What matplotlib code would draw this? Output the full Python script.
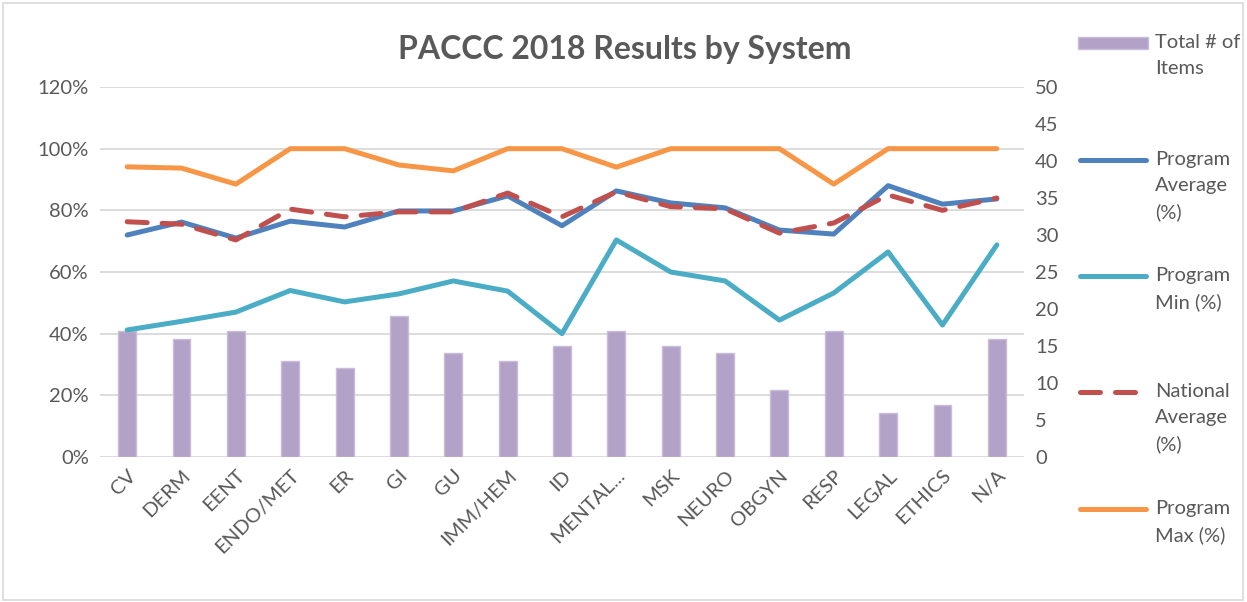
import matplotlib
matplotlib.use("Agg")
import matplotlib.pyplot as plt
from matplotlib.lines import Line2D
from matplotlib.patches import Rectangle

plt.rcParams.update({
    "font.family": ["Lato", "DejaVu Sans"],
    "font.size": 14.5,
})

# ── Data ─────────────────────────────────────────────────────────────────────
systems = ["CV", "DERM", "EENT", "ENDO/MET", "ER", "GI", "GU", "IMM/HEM", "ID",
           "MENTAL...", "MSK", "NEURO", "OBGYN", "RESP", "LEGAL", "ETHICS", "N/A"]
total_items = [17, 16, 17, 13, 12, 19, 14, 13, 15, 17, 15, 14, 9, 17, 6, 7, 16]
program_avg = [72.0, 76.2, 71.0, 76.5, 74.6, 79.8, 79.8, 84.7, 75.0, 86.3,
               82.4, 80.8, 73.6, 72.3, 88.0, 82.0, 83.7]
program_min = [41.2, 44.0, 47.0, 54.0, 50.3, 52.9, 57.1, 53.8, 40.0, 70.4,
               60.0, 57.1, 44.4, 53.2, 66.5, 42.8, 68.8]
national_avg = [76.3, 75.5, 70.4, 80.4, 77.9, 79.5, 79.5, 85.6, 77.9, 86.0,
                81.2, 80.5, 72.6, 75.9, 85.0, 80.0, 84.0]
program_max = [94.1, 93.7, 88.5, 100, 100, 94.7, 92.8, 100, 100, 94.0,
               100, 100, 100, 88.5, 100, 100, 100]

# ── Colours ──────────────────────────────────────────────────────────────────
C_BAR = "#B3A2C7"
C_BAR_EDGE = "#C9BDDA"
C_AVG = "#4F81BD"
C_MIN = "#4BACC6"
C_NAT = "#C0504D"
C_MAX = "#F79646"
C_TXT = "#595959"
C_GRID = "#D9D9D9"
FS = 14.5
DASH = (4.0, 3.0)

fig = plt.figure(figsize=(12.47, 6.02), dpi=100)
ax = fig.add_axes([100 / 1247, 1 - 457 / 602, 924 / 1247, 370 / 602])
ax2 = ax.twinx()
ax.set_zorder(ax2.get_zorder() + 1)
ax.patch.set_visible(False)

x = list(range(len(systems)))

# bars on secondary axis
ax2.bar(x, total_items, width=0.33, color=C_BAR, edgecolor=C_BAR_EDGE,
        linewidth=1.0, zorder=2)
ax2.set_ylim(0, 50)
ax2.set_yticks(range(0, 51, 5))

pct_ticks = [0, 20, 40, 60, 80, 100, 120]
ax2.hlines(pct_ticks, 0, 1, transform=ax.get_yaxis_transform(),
           color=C_GRID, linewidth=1.3, zorder=0)

# lines on primary axis
lw = 3.6
ax.plot(x, program_max, color=C_MAX, lw=lw, solid_capstyle="round", zorder=3)
ax.plot(x, program_min, color=C_MIN, lw=lw, solid_capstyle="round", zorder=3)
ax.plot(x, program_avg, color=C_AVG, lw=lw, solid_capstyle="round", zorder=4)
ax.plot(x, national_avg, color=C_NAT, lw=lw, dashes=DASH,
        dash_capstyle="round", zorder=5)

ax.set_ylim(0, 120)
ax.set_yticks(pct_ticks)
ax.set_yticklabels([f"{v}%" for v in pct_ticks])
ax.set_xlim(-0.5, len(systems) - 0.5)
ax.set_xticks(x)
ax.set_xticklabels(systems, rotation=45, ha="right", rotation_mode="anchor")

for a in (ax, ax2):
    for s in a.spines.values():
        s.set_visible(False)
    a.tick_params(length=0, colors=C_TXT, labelsize=FS)
ax.tick_params(axis="y", pad=8)
ax2.tick_params(axis="y", pad=8)
ax.tick_params(axis="x", pad=7)

fig.text(625 / 1247, 1 - 50 / 602, "PACCC 2018 Results by System",
         ha="center", va="center", fontsize=23, fontweight="bold", color=C_TXT)

# ── Legend (manual, right side) ─────────────────────────────────────────────
entries = [
    ("bar", "Total # of\nItems", 43),
    (("-", C_AVG), "Program\nAverage\n(%)", 160),
    (("-", C_MIN), "Program\nMin (%)", 276),
    (("--", C_NAT), "National\nAverage\n(%)", 392),
    (("-", C_MAX), "Program\nMax (%)", 509),
]
hx0, hx1, tx = 1078 / 1247, 1148 / 1247, 1155 / 1247
for kind, label, ypix in entries:
    yf = 1 - ypix / 602
    if kind == "bar":
        fig.add_artist(Rectangle((hx0, yf - 6 / 602), hx1 - hx0, 12 / 602,
                                 transform=fig.transFigure, facecolor=C_BAR,
                                 edgecolor=C_BAR_EDGE, linewidth=1.0))
    else:
        style, col = kind
        ln = Line2D([hx0 + 0.002, hx1 - 0.002], [yf, yf], transform=fig.transFigure,
                    color=col, lw=lw, solid_capstyle="round", dash_capstyle="round")
        if style == "--":
            ln.set_dashes(DASH)
        fig.add_artist(ln)
    fig.text(tx, yf + 9 / 602, label, ha="left", va="top", fontsize=FS,
             color=C_TXT, linespacing=1.62)

# outer border
fig.add_artist(Rectangle((3 / 1247, 2 / 602), 1240 / 1247, 597 / 602,
                         transform=fig.transFigure, facecolor="none",
                         edgecolor=C_GRID, linewidth=1.2))

fig.savefig("out.png", dpi=100)
